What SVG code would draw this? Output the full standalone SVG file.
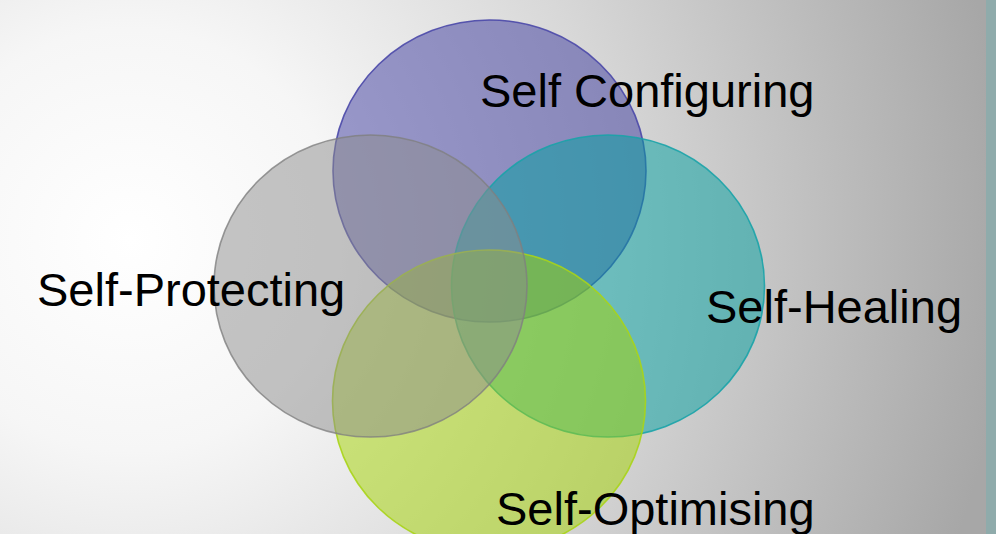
<svg xmlns="http://www.w3.org/2000/svg" width="996" height="534" viewBox="0 0 996 534">
  <defs>
    <radialGradient id="bg" gradientUnits="userSpaceOnUse" cx="130" cy="240" r="880">
      <stop offset="0" stop-color="#ffffff"/>
      <stop offset="0.24" stop-color="#f6f6f6"/>
      <stop offset="0.55" stop-color="#d8d8d8"/>
      <stop offset="1" stop-color="#a7a7a7"/>
    </radialGradient>
    <style>
      .ring { stroke-width: 1.6; }
      .label { font-family: "Liberation Sans", Arial, sans-serif; font-size: 47px; fill: #000000; }
    </style>
  </defs>

  <!-- backdrop -->
  <rect x="0" y="0" width="996" height="534" fill="url(#bg)"/>
  <rect x="986" y="0" width="10" height="534" fill="#8fabab"/>

  <!-- overlapping sets -->
  <g id="configuring">
    <ellipse class="ring" cx="489.5" cy="171" rx="156.5" ry="151" fill="#3c3a9e" fill-opacity="0.5" stroke="#4a48a8" stroke-opacity="0.9"/>
  </g>
  <g id="healing">
    <ellipse class="ring" cx="608" cy="286" rx="156.5" ry="151" fill="#00a0a0" fill-opacity="0.5" stroke="#1aa3a8" stroke-opacity="0.9"/>
  </g>
  <g id="optimising">
    <ellipse class="ring" cx="489" cy="401" rx="156.5" ry="151" fill="#a3d400" fill-opacity="0.5" stroke="#a8d418" stroke-opacity="0.9"/>
  </g>
  <g id="protecting">
    <ellipse class="ring" cx="370.5" cy="286" rx="156.5" ry="151" fill="#8c8c8c" fill-opacity="0.5" stroke="#7f7f7f" stroke-opacity="0.8"/>
  </g>

  <!-- labels -->
  <g id="labels">
    <text class="label" x="480" y="107">Self Configuring</text>
    <text class="label" x="37" y="306">Self-Protecting</text>
    <text class="label" x="706" y="323">Self-Healing</text>
    <text class="label" x="496" y="525">Self-Optimising</text>
  </g>
</svg>
